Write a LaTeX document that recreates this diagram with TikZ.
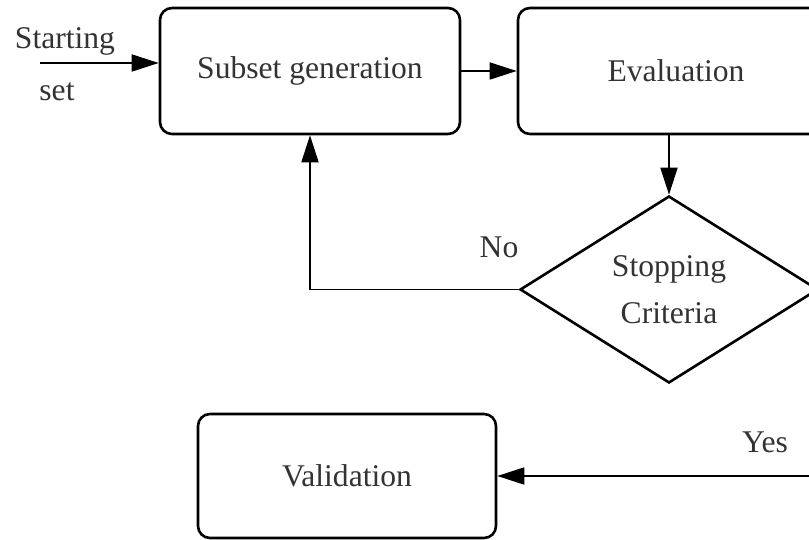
\documentclass[tikz,border=0pt]{standalone}
\usepackage{fontspec}
\setmainfont{Liberation Serif}
\usetikzlibrary{arrows.meta,shapes.geometric}
\begin{document}
\begin{tikzpicture}[x=1pt,y=-1pt,
  every node/.style={font=\fontsize{31.6}{47}\selectfont, text=black!80},
  box/.style={draw=black,line width=2.6pt,rounded corners=12pt,minimum height=126pt,inner sep=0pt},
  dec/.style={draw=black,diamond,line width=2.6pt,minimum width=298pt,minimum height=187pt,inner sep=0pt,align=center},
  conn/.style={line width=1.8pt,-{Triangle[length=27pt,width=17pt]}},
  lbl/.style={anchor=base,inner sep=0pt}]
\useasboundingbox (0,0) rectangle (809,540);
\fill[white] (0,0) rectangle (809,540);
\clip (0,0) rectangle (809,540);
\node[box,minimum width=300pt] (sub) at (310,71) {Subset generation};
\node[box,minimum width=316pt] (eva) at (676,71) {Evaluation};
\node[dec] (dia) at (669,289.5) {Stopping\\Criteria};
\node[box,minimum width=298pt,minimum height=124pt] (val) at (347,476) {Validation};
\coordinate (start) at (40,63);
\node[lbl] (lstart) at (65,49) {Starting};
\node[lbl] (lset) at (57,101) {set};
\node[lbl] (lno) at (499,258) {No};
\node[lbl] (lyes) at (765,452) {Yes};
\draw[conn] (start) -- (start -| sub.west);
\draw[conn] (sub.east) -- (eva.west);
\draw[conn] (eva.south -| dia.north) -- (dia.north);
\draw[conn] (dia.west) -| (sub.south);
\draw[conn] (dia.east) -- ++(40,0) |- (val.east);
\end{tikzpicture}
\end{document}
